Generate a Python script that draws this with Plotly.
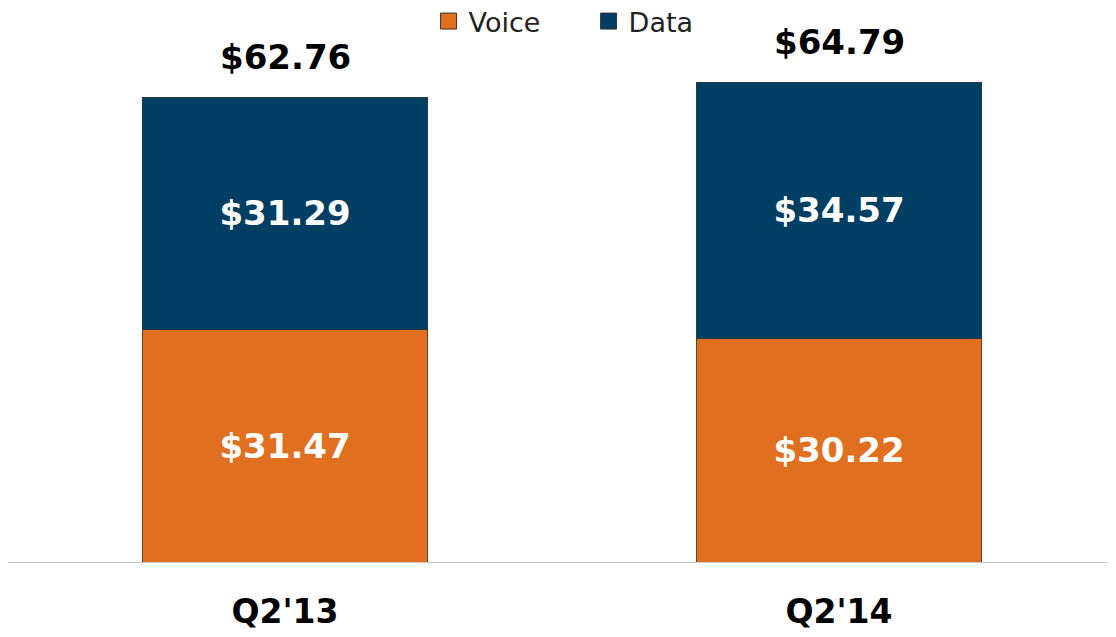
import plotly.graph_objects as go

categories = ["Q2'13", "Q2'14"]
voice = [31.47, 30.22]
data = [31.29, 34.57]
totals = [62.76, 64.79]

voice_labels = [f"${v:.2f}" for v in voice]
data_labels = [f"${v:.2f}" for v in data]
total_labels = [f"${v:.2f}" for v in totals]

FONT = "DejaVu Sans"
ORANGE = "#E07020"
NAVY = "#003F63"

fig = go.Figure()
fig.add_trace(go.Bar(
    x=categories, y=voice, name="Voice", showlegend=False,
    marker=dict(color=ORANGE, line=dict(color="#5a4030", width=1)),
    text=voice_labels, textposition="inside", insidetextanchor="middle",
    textfont=dict(family=FONT, size=34, color="white", weight="bold"),
))
fig.add_trace(go.Bar(
    x=categories, y=data, name="Data", showlegend=False,
    marker=dict(color=NAVY, line=dict(color="#2a3a45", width=1)),
    text=data_labels, textposition="inside", insidetextanchor="middle",
    textfont=dict(family=FONT, size=34, color="white", weight="bold"),
))
# legend entries
for name, col in [("Voice", ORANGE), ("Data", NAVY)]:
    fig.add_trace(go.Scatter(x=[None], y=[None], mode="markers", name=name,
                             marker=dict(symbol="square", size=16, color=col,
                                         line=dict(color="#333333", width=1))))

for c, t, lab in zip(categories, totals, total_labels):
    fig.add_annotation(x=c, y=t, text=lab, showarrow=False, yanchor="bottom", yshift=18,
                       font=dict(family=FONT, size=34, color="black", weight="bold"))

fig.update_layout(
    barmode="stack",
    bargap=0.487,
    width=1108, height=629,
    margin=dict(l=0, r=0, t=21, b=75, autoexpand=False),
    paper_bgcolor="white", plot_bgcolor="white",
    showlegend=True,
    legend=dict(orientation="h", x=0.524, xanchor="center", y=1.014, yanchor="middle",
                font=dict(family=FONT, size=27, color="#222222"), traceorder="normal",
                entrywidth=115, entrywidthmode="pixels", bgcolor="rgba(0,0,0,0)"),
)
fig.update_xaxes(showline=True, linecolor="#C8C8C8", linewidth=1, showgrid=False,
                 ticks="outside", ticklen=20, tickcolor="rgba(0,0,0,0)",
                 tickfont=dict(family=FONT, size=33, color="black", weight="bold"))
fig.update_yaxes(range=[0, 72], visible=False, showgrid=False)

fig.write_html("out.html")
